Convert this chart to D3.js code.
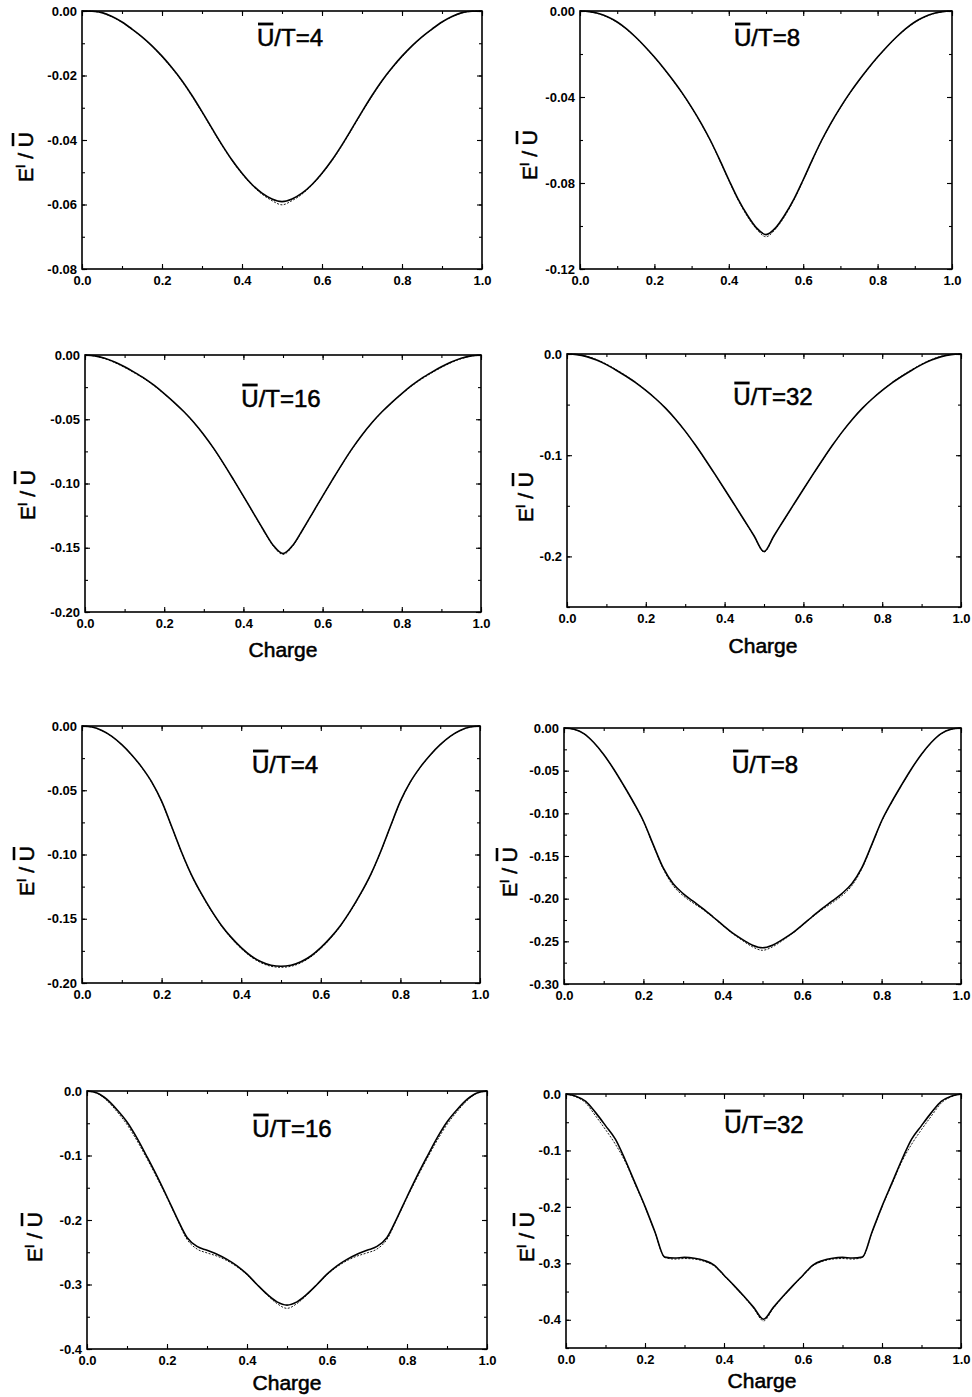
<!DOCTYPE html>
<html><head><meta charset="utf-8">
<script src="https://cdn.jsdelivr.net/npm/d3@7"></script>
<style>
body{margin:0;background:#fff}
svg{display:block}
text{font-family:"Liberation Sans",Arial,Helvetica,sans-serif;fill:#000}
.tk text{font-weight:bold;font-size:13px}
.tk line{stroke:#000;stroke-width:1.1}
.tk .domain{display:none}
.big{stroke:#000;stroke-width:0.55px}
</style>
</head><body>
<svg id="c" width="972" height="1397"></svg>
<script>
// ---------- DATA ----------
const charge = [0, 0.025, 0.05, 0.075, 0.1, 0.125, 0.15, 0.175, 0.2, 0.225, 0.25, 0.275, 0.3, 0.325, 0.35, 0.375, 0.4, 0.425, 0.45, 0.475, 0.5, 0.525, 0.55, 0.575, 0.6, 0.625, 0.65, 0.675, 0.7, 0.725, 0.75, 0.775, 0.8, 0.825, 0.85, 0.875, 0.9, 0.925, 0.95, 0.975, 1.0];

const ratios = ["4", "8", "16", "32", "4", "8", "16", "32"];

const p1Solid = [0, -0.0001, -0.0005, -0.0017, -0.0034, -0.0056, -0.0080, -0.0108, -0.0140, -0.0176, -0.0216, -0.0262, -0.0312, -0.0364, -0.0415, -0.0462, -0.0503, -0.0538, -0.0565, -0.0583, -0.0591, -0.0583, -0.0565, -0.0538, -0.0503, -0.0462, -0.0415, -0.0364, -0.0312, -0.0262, -0.0216, -0.0176, -0.0140, -0.0108, -0.0080, -0.0056, -0.0034, -0.0017, -0.0005, -0.0001, 0];
const p1Dashed = [0, -0.0001, -0.0006, -0.0018, -0.0035, -0.0057, -0.0081, -0.0109, -0.0142, -0.0178, -0.0218, -0.0264, -0.0314, -0.0366, -0.0417, -0.0464, -0.0505, -0.0540, -0.0568, -0.0588, -0.0601, -0.0588, -0.0568, -0.0540, -0.0505, -0.0464, -0.0417, -0.0366, -0.0314, -0.0264, -0.0218, -0.0178, -0.0142, -0.0109, -0.0081, -0.0057, -0.0035, -0.0018, -0.0006, -0.0001, 0];

const p2Solid = [0, -0.0003, -0.0012, -0.0028, -0.0051, -0.0083, -0.0122, -0.0166, -0.0214, -0.0266, -0.0322, -0.0382, -0.0448, -0.0520, -0.0600, -0.0690, -0.0785, -0.0875, -0.0950, -0.1010, -0.1040, -0.1010, -0.0950, -0.0875, -0.0785, -0.0690, -0.0600, -0.0520, -0.0448, -0.0382, -0.0322, -0.0266, -0.0214, -0.0166, -0.0122, -0.0083, -0.0051, -0.0028, -0.0012, -0.0003, 0];
const p2Dashed = [0, -0.0003, -0.0013, -0.0029, -0.0053, -0.0085, -0.0124, -0.0168, -0.0216, -0.0268, -0.0324, -0.0384, -0.0450, -0.0522, -0.0602, -0.0692, -0.0788, -0.0879, -0.0955, -0.1015, -0.1050, -0.1015, -0.0955, -0.0879, -0.0788, -0.0692, -0.0602, -0.0522, -0.0450, -0.0384, -0.0324, -0.0268, -0.0216, -0.0168, -0.0124, -0.0085, -0.0053, -0.0029, -0.0013, -0.0003, 0];

const p3Solid = [0, -0.0007, -0.0026, -0.0055, -0.0092, -0.0135, -0.0182, -0.0237, -0.0300, -0.0368, -0.0442, -0.0525, -0.0620, -0.0727, -0.0845, -0.0970, -0.1098, -0.1228, -0.1358, -0.1480, -0.1545, -0.1480, -0.1358, -0.1228, -0.1098, -0.0970, -0.0845, -0.0727, -0.0620, -0.0525, -0.0442, -0.0368, -0.0300, -0.0237, -0.0182, -0.0135, -0.0092, -0.0055, -0.0026, -0.0007, 0];
const p3Dashed = [0, -0.0008, -0.0029, -0.0059, -0.0097, -0.0140, -0.0187, -0.0241, -0.0303, -0.0370, -0.0444, -0.0527, -0.0622, -0.0729, -0.0847, -0.0972, -0.1100, -0.1230, -0.1361, -0.1485, -0.1552, -0.1485, -0.1361, -0.1230, -0.1100, -0.0972, -0.0847, -0.0729, -0.0622, -0.0527, -0.0444, -0.0370, -0.0303, -0.0241, -0.0187, -0.0140, -0.0097, -0.0059, -0.0029, -0.0008, 0];

const p4Solid = [0, -0.0006, -0.0026, -0.0060, -0.0105, -0.0160, -0.0220, -0.0285, -0.0360, -0.0442, -0.0535, -0.0642, -0.0762, -0.0895, -0.1037, -0.1185, -0.1336, -0.1489, -0.1643, -0.1798, -0.1952, -0.1798, -0.1643, -0.1489, -0.1336, -0.1185, -0.1037, -0.0895, -0.0762, -0.0642, -0.0535, -0.0442, -0.0360, -0.0285, -0.0220, -0.0160, -0.0105, -0.0060, -0.0026, -0.0006, 0];
const p4Dashed = [0, -0.0005, -0.0022, -0.0055, -0.0100, -0.0155, -0.0216, -0.0282, -0.0358, -0.0441, -0.0535, -0.0643, -0.0764, -0.0897, -0.1039, -0.1187, -0.1338, -0.1491, -0.1645, -0.1801, -0.1958, -0.1801, -0.1645, -0.1491, -0.1338, -0.1187, -0.1039, -0.0897, -0.0764, -0.0643, -0.0535, -0.0441, -0.0358, -0.0282, -0.0216, -0.0155, -0.0100, -0.0055, -0.0022, -0.0005, 0];

const p5Solid = [0, -0.0008, -0.0035, -0.0080, -0.0145, -0.0225, -0.0320, -0.0435, -0.0585, -0.0780, -0.0980, -0.1158, -0.1305, -0.1435, -0.1550, -0.1645, -0.1725, -0.1790, -0.1835, -0.1862, -0.1870, -0.1862, -0.1835, -0.1790, -0.1725, -0.1645, -0.1550, -0.1435, -0.1305, -0.1158, -0.0980, -0.0780, -0.0585, -0.0435, -0.0320, -0.0225, -0.0145, -0.0080, -0.0035, -0.0008, 0];
const p5Dashed = [0, -0.0008, -0.0036, -0.0082, -0.0147, -0.0228, -0.0323, -0.0438, -0.0588, -0.0783, -0.0983, -0.1161, -0.1309, -0.1440, -0.1555, -0.1651, -0.1732, -0.1797, -0.1843, -0.1870, -0.1878, -0.1870, -0.1843, -0.1797, -0.1732, -0.1651, -0.1555, -0.1440, -0.1309, -0.1161, -0.0983, -0.0783, -0.0588, -0.0438, -0.0323, -0.0228, -0.0147, -0.0082, -0.0036, -0.0008, 0];

const p6Solid = [0, -0.0015, -0.0066, -0.0170, -0.0310, -0.0480, -0.0670, -0.0870, -0.1090, -0.1370, -0.1640, -0.1825, -0.1940, -0.2030, -0.2117, -0.2212, -0.2310, -0.2405, -0.2480, -0.2545, -0.2575, -0.2545, -0.2480, -0.2405, -0.2310, -0.2212, -0.2117, -0.2030, -0.1940, -0.1825, -0.1640, -0.1370, -0.1090, -0.0870, -0.0670, -0.0480, -0.0310, -0.0170, -0.0066, -0.0015, 0];
const p6Dashed = [0, -0.0015, -0.0068, -0.0173, -0.0313, -0.0483, -0.0673, -0.0874, -0.1095, -0.1376, -0.1652, -0.1848, -0.1965, -0.2050, -0.2128, -0.2218, -0.2315, -0.2410, -0.2492, -0.2565, -0.2605, -0.2565, -0.2492, -0.2410, -0.2315, -0.2218, -0.2128, -0.2050, -0.1965, -0.1848, -0.1652, -0.1376, -0.1095, -0.0874, -0.0673, -0.0483, -0.0313, -0.0173, -0.0068, -0.0015, 0];

const p7Solid = [0, -0.0030, -0.0130, -0.0290, -0.0480, -0.0730, -0.1020, -0.1320, -0.1640, -0.1970, -0.2270, -0.2410, -0.2470, -0.2530, -0.2610, -0.2710, -0.2840, -0.3000, -0.3150, -0.3270, -0.3320, -0.3270, -0.3150, -0.3000, -0.2840, -0.2710, -0.2610, -0.2530, -0.2470, -0.2410, -0.2270, -0.1970, -0.1640, -0.1320, -0.1020, -0.0730, -0.0480, -0.0290, -0.0130, -0.0030, 0];
const p7Dashed = [0, -0.0035, -0.0150, -0.0320, -0.0520, -0.0770, -0.1050, -0.1345, -0.1655, -0.1980, -0.2300, -0.2450, -0.2510, -0.2560, -0.2630, -0.2725, -0.2850, -0.3005, -0.3160, -0.3295, -0.3370, -0.3295, -0.3160, -0.3005, -0.2850, -0.2725, -0.2630, -0.2560, -0.2510, -0.2450, -0.2300, -0.1980, -0.1655, -0.1345, -0.1050, -0.0770, -0.0520, -0.0320, -0.0150, -0.0035, 0];

const p8Solid = [0, -0.0040, -0.0130, -0.0330, -0.0560, -0.0800, -0.1170, -0.1580, -0.1990, -0.2440, -0.2890, -0.2905, -0.2895, -0.2910, -0.2950, -0.3030, -0.3210, -0.3390, -0.3580, -0.3780, -0.3990, -0.3780, -0.3580, -0.3390, -0.3210, -0.3030, -0.2950, -0.2910, -0.2895, -0.2905, -0.2890, -0.2440, -0.1990, -0.1580, -0.1170, -0.0800, -0.0560, -0.0330, -0.0130, -0.0040, 0];
const p8Dashed = [0, -0.0050, -0.0160, -0.0390, -0.0630, -0.0890, -0.1200, -0.1600, -0.2000, -0.2445, -0.2895, -0.2925, -0.2915, -0.2925, -0.2965, -0.3045, -0.3220, -0.3400, -0.3590, -0.3795, -0.4020, -0.3795, -0.3590, -0.3400, -0.3220, -0.3045, -0.2965, -0.2925, -0.2915, -0.2925, -0.2895, -0.2445, -0.2000, -0.1600, -0.1200, -0.0890, -0.0630, -0.0390, -0.0160, -0.0050, 0];

const xTicks = [0, 0.2, 0.4, 0.6, 0.8, 1.0];
const xTickLabels = ["0.0", "0.2", "0.4", "0.6", "0.8", "1.0"];

const yTicks1 = [0, -0.02, -0.04, -0.06, -0.08];
const yLabels1 = ["0.00", "-0.02", "-0.04", "-0.06", "-0.08"];
const yTicks2 = [0, -0.04, -0.08, -0.12];
const yLabels2 = ["0.00", "-0.04", "-0.08", "-0.12"];
const yTicks3 = [0, -0.05, -0.10, -0.15, -0.20];
const yLabels3 = ["0.00", "-0.05", "-0.10", "-0.15", "-0.20"];
const yTicks4 = [0, -0.1, -0.2];
const yLabels4 = ["0.0", "-0.1", "-0.2"];
const yTicks6 = [0, -0.05, -0.10, -0.15, -0.20, -0.25, -0.30];
const yLabels6 = ["0.00", "-0.05", "-0.10", "-0.15", "-0.20", "-0.25", "-0.30"];
const yTicks7 = [0, -0.1, -0.2, -0.3, -0.4];
const yLabels7 = ["0.0", "-0.1", "-0.2", "-0.3", "-0.4"];

const yMins = [-0.08, -0.12, -0.20, -0.25, -0.20, -0.30, -0.40, -0.45];
const minorSteps = [0.01, 0.02, 0.025, 0.05, 0.025, 0.025, 0.05, 0.05];

// ---------- LAYOUT ----------
const panels = [
  {solid:p1Solid, dashed:p1Dashed, ticks:yTicks1, labels:yLabels1, box:[82,11,482,269], title:[290,46], ylab:[25,157], charge:null},
  {solid:p2Solid, dashed:p2Dashed, ticks:yTicks2, labels:yLabels2, box:[580,11,952,269], title:[767,46], ylab:[529,155], charge:null},
  {solid:p3Solid, dashed:p3Dashed, ticks:yTicks3, labels:yLabels3, box:[85,355,481,612], title:[281,407], ylab:[27,495], charge:[283,657]},
  {solid:p4Solid, dashed:p4Dashed, ticks:yTicks4, labels:yLabels4, box:[567,354,961,607], title:[773,405], ylab:[525,497], charge:[763,653]},
  {solid:p5Solid, dashed:p5Dashed, ticks:yTicks3, labels:yLabels3, box:[82,726,480,983], title:[285,773], ylab:[26,871], charge:null},
  {solid:p6Solid, dashed:p6Dashed, ticks:yTicks6, labels:yLabels6, box:[564,728,961,984], title:[765,773], ylab:[509,872], charge:null},
  {solid:p7Solid, dashed:p7Dashed, ticks:yTicks7, labels:yLabels7, box:[87,1091,487,1349], title:[292,1137], ylab:[34,1237], charge:[287,1390]},
  {solid:p8Solid, dashed:p8Dashed, ticks:yTicks7, labels:yLabels7, box:[566,1094,961,1348], title:[764,1133], ylab:[526,1237], charge:[762,1388]}
];

const svg = d3.select("#c");

panels.forEach((p, i) => {
  const [x0, y0, x1, y1] = p.box;
  const yMin = yMins[i];
  const x = d3.scaleLinear().domain([0, 1]).range([x0, x1]);
  const y = d3.scaleLinear().domain([0, yMin]).range([y0, y1]);
  const g = svg.append("g");

  const yMinor = d3.range(0, yMin - 1e-9, -minorSteps[i]).concat([yMin]);
  const xMinor = d3.range(0, 1.0001, 0.1);

  g.append("g").attr("class","tk").attr("transform",`translate(${x0},0)`)
    .call(d3.axisLeft(y).tickValues(p.ticks).tickFormat((d,k)=>p.labels[k]).tickSizeInner(-5).tickSizeOuter(0).tickPadding(5));
  g.append("g").attr("class","tk").attr("transform",`translate(${x0},0)`)
    .call(d3.axisLeft(y).tickValues(yMinor).tickFormat("").tickSizeInner(-3).tickSizeOuter(0));
  g.append("g").attr("class","tk").attr("transform",`translate(${x1},0)`)
    .call(d3.axisRight(y).tickValues(p.ticks).tickFormat("").tickSizeInner(-5).tickSizeOuter(0));
  g.append("g").attr("class","tk").attr("transform",`translate(${x1},0)`)
    .call(d3.axisRight(y).tickValues(yMinor).tickFormat("").tickSizeInner(-3).tickSizeOuter(0));
  g.append("g").attr("class","tk").attr("transform",`translate(0,${y1})`)
    .call(d3.axisBottom(x).tickValues(xTicks).tickFormat((d,k)=>xTickLabels[k]).tickSizeInner(-5).tickSizeOuter(0).tickPadding(7));
  g.append("g").attr("class","tk").attr("transform",`translate(0,${y1})`)
    .call(d3.axisBottom(x).tickValues(xMinor).tickFormat("").tickSizeInner(-3).tickSizeOuter(0));
  g.append("g").attr("class","tk").attr("transform",`translate(0,${y0})`)
    .call(d3.axisTop(x).tickValues(xTicks).tickFormat("").tickSizeInner(-5).tickSizeOuter(0));
  g.append("g").attr("class","tk").attr("transform",`translate(0,${y0})`)
    .call(d3.axisTop(x).tickValues(xMinor).tickFormat("").tickSizeInner(-3).tickSizeOuter(0));

  g.append("rect").attr("x", x0).attr("y", y0).attr("width", x1 - x0).attr("height", y1 - y0)
    .attr("fill","none").attr("stroke","#000").attr("stroke-width",1.6);

  const line = d3.line().x((d,k)=>x(charge[k])).y(d=>y(d)).curve(d3.curveMonotoneX);
  g.append("path").attr("d", line(p.solid)).attr("fill","none").attr("stroke","#000").attr("stroke-width",1.6);
  g.append("path").attr("d", line(p.dashed)).attr("fill","none").attr("stroke","#000").attr("stroke-width",0.9).attr("stroke-dasharray","2,1.5");

  // title  Ū/T=n
  const t = g.append("text").attr("class","big").attr("x", p.title[0]).attr("y", p.title[1]).attr("text-anchor","middle")
    .style("font-size","24px").text("U/T=" + ratios[i]);
  const e = t.node().getExtentOfChar(0);
  g.append("line").attr("x1", e.x + 1).attr("x2", e.x + e.width - 1)
    .attr("y1", p.title[1] - 22).attr("y2", p.title[1] - 22)
    .attr("stroke","#000").attr("stroke-width",2.8);

  // y label E^I / Ū
  const gl = g.append("g").attr("transform",`translate(${p.ylab[0]},${p.ylab[1]}) rotate(-90)`);
  const tl = gl.append("text").attr("class","big").attr("x",0).attr("y",7.5).attr("text-anchor","middle").style("font-size","21px");
  tl.append("tspan").text("E");
  tl.append("tspan").attr("dy",-8).style("font-size","12px").text("I");
  tl.append("tspan").attr("dy",8).text(" / U");
  const n = tl.node().getNumberOfChars();
  const eu = tl.node().getExtentOfChar(n - 1);
  gl.append("line").attr("x1", eu.x + 1).attr("x2", eu.x + eu.width - 1)
    .attr("y1", 7.5 - 19.5).attr("y2", 7.5 - 19.5).attr("stroke","#000").attr("stroke-width",2.6);

  if (p.charge) {
    g.append("text").attr("class","big").attr("x", p.charge[0]).attr("y", p.charge[1]).attr("text-anchor","middle")
      .style("font-size","21px").text("Charge");
  }
});
</script>
</body></html>
